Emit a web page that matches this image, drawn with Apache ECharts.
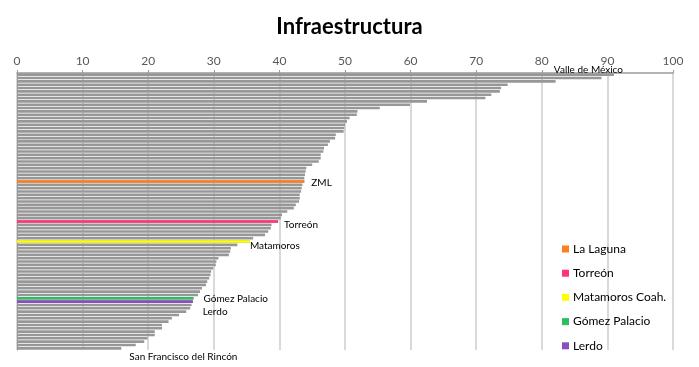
<!DOCTYPE html>
<html><head><meta charset="utf-8">
<script src="https://cdn.jsdelivr.net/npm/echarts@6/dist/echarts.min.js"></script>
<style>html,body{margin:0;padding:0;background:#fff}#c{width:699px;height:367px}</style>
</head><body><div id="c"></div>
<script>
// ---- data ----
const values = [
  91.0, 89.1, 82.1, 74.8, 73.8, 73.6, 72.3, 71.4, 62.5, 59.9,
  55.3, 51.9, 51.8, 50.7, 50.3, 50.0, 49.9, 49.8, 48.6, 48.5,
  47.7, 47.4, 46.8, 46.7, 46.3, 46.3, 46.0, 45.0, 44.1, 44.0,
  43.9, 43.8, 43.8, 43.5, 43.4, 43.3, 43.1, 43.1, 43.0, 42.5,
  42.2, 41.2, 40.4, 40.2, 39.8, 38.8, 38.7, 38.3, 37.8, 36.0,
  35.5, 33.6, 32.6, 32.5, 32.3, 30.7, 30.4, 30.3, 29.9, 29.6,
  29.5, 29.3, 29.0, 28.8, 28.2, 27.9, 27.6, 26.9, 26.8, 26.6,
  26.4, 25.8, 24.7, 23.6, 23.1, 22.1, 22.1, 21.0, 21.0, 19.9,
  19.4, 18.1, 15.9
];
const categories = values.map((v, i) => String(i + 1));
const labelIndex = [0, 32, 44, 50, 67, 68, 82];
const labelText = ['Valle de México', 'ZML', 'Torreón', 'Matamoros', 'Gómez Palacio', 'Lerdo', 'San Francisco del Rincón'];
const highlightNames = ['La Laguna', 'Torreón', 'Matamoros Coah.', 'Gómez Palacio', 'Lerdo'];
const highlightIndex = [32, 44, 50, 67, 68];
const xMin = 0, xMax = 100, xStep = 10;

// ---- styles ----
const FONT = 'Lato';
const highlightColors = ['#FF7F1F', '#FF3377', '#FFFF00', '#2DBE60', '#8A4FBE'];
const grayColor = '#979797';
const labelPlacement = {
  'Valle de México': { position: ['100%', 0], align: 'right', verticalAlign: 'bottom', offset: [9, 1] },
  'ZML': { position: 'right', distance: 7, offset: [0, 1] },
  'Torreón': { position: 'right', distance: 6, offset: [0, 3] },
  'Matamoros': { position: 'right', distance: 0, offset: [0, 4] },
  'Gómez Palacio': { position: 'right', distance: 10, offset: [0, 1] },
  'Lerdo': { position: 'right', distance: 10, offset: [0, 10] },
  'San Francisco del Rincón': { position: 'right', distance: 8, offset: [0, 8] }
};

const grayData = values.map((v, i) => {
  const k = labelIndex.indexOf(i);
  if (k < 0) return v;
  return {
    value: v,
    label: Object.assign({
      show: true, formatter: labelText[k], color: '#000',
      fontFamily: FONT, fontSize: 10
    }, labelPlacement[labelText[k]])
  };
});

const series = [{
  type: 'bar', name: 'all', data: grayData,
  itemStyle: { color: grayColor },
  barCategoryGap: '22%', barGap: '-100%', z: 2, silent: true
}];
highlightNames.forEach((n, k) => {
  series.push({
    type: 'bar', name: n,
    data: values.map((v, i) => i === highlightIndex[k] ? v : '-'),
    itemStyle: { color: highlightColors[k] },
    barCategoryGap: '22%', barGap: '-100%', z: 3, silent: true
  });
});

const chart = echarts.init(document.getElementById('c'), null, { renderer: 'canvas' });
chart.setOption({
  animation: false,
  backgroundColor: '#fff',
  title: {
    text: 'Infraestructura', left: 'center', top: 11,
    textStyle: { fontFamily: FONT, fontWeight: 'bold', fontSize: 22, color: '#000' }
  },
  legend: {
    data: highlightNames, orient: 'vertical', left: 562, top: 243,
    padding: 0, itemGap: 12.2, itemWidth: 7, itemHeight: 7, icon: 'rect',
    textStyle: { fontFamily: FONT, fontSize: 12, color: '#000', padding: [0, 0, 0, -1] }
  },
  grid: { left: 17, right: 26, top: 73, bottom: 17, containLabel: false },
  xAxis: {
    type: 'value', position: 'top', min: xMin, max: xMax, interval: xStep,
    axisLine: { show: true, lineStyle: { color: '#9a9a9a', width: 1.5 } },
    axisTick: { show: true, length: 3, lineStyle: { color: '#9a9a9a' } },
    axisLabel: { fontFamily: FONT, fontSize: 12, color: '#595959', margin: 6 },
    splitLine: { show: true, lineStyle: { color: '#cccccc', width: 1.5 } }
  },
  yAxis: {
    type: 'category', data: categories, inverse: true,
    axisLine: { show: true, lineStyle: { color: '#9a9a9a', width: 1 } },
    axisTick: { show: false }, axisLabel: { show: false }, splitLine: { show: false }
  },
  series: series
});
</script></body></html>
